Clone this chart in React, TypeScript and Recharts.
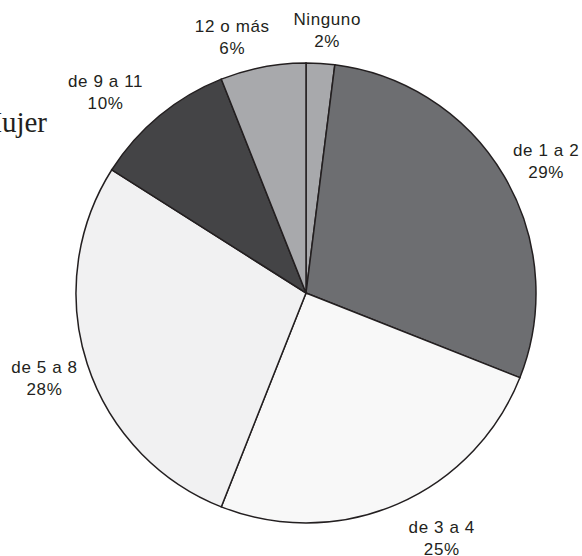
import React from "react";
import { PieChart, Pie, Cell } from "recharts";

// Share of households by number of books (women respondents)
const categories = ["Ninguno", "de 1 a 2", "de 3 a 4", "de 5 a 8", "de 9 a 11", "12 o más"];
const shares = [2, 29, 25, 28, 10, 6];
const sliceColors = ["#a8a9ac", "#6d6e71", "#f8f8f8", "#f1f1f2", "#444446", "#a8a9ac"];

// label placement: [angle nudge in degrees (clockwise), distance from centre]
const labelPlacement: [number, number][] = [
  [1, 264],
  [1.8, 274],
  [-5.6, 280],
  [0, 275],
  [-5.3, 284],
  [-5.3, 266],
];

const data = categories.map((name, i) => ({ name, value: shares[i] }));

const RADIAN = Math.PI / 180;
const INK = "#231f20";

const renderLabel = (props: any) => {
  const { cx, cy, midAngle, name, value, index } = props;
  const [nudge, r] = labelPlacement[index];
  const theta = (90 - midAngle + nudge) * RADIAN; // clockwise from 12 o'clock
  const x = cx + r * Math.sin(theta);
  const y = cy - r * Math.cos(theta);
  return (
    <text
      x={x}
      y={y}
      textAnchor="middle"
      fill={INK}
      fontFamily="'Liberation Sans', Arial, sans-serif"
      fontSize={17}
      letterSpacing={0.6}
    >
      <tspan x={x} y={y - 5}>{name}</tspan>
      <tspan x={x} y={y + 17}>{value}%</tspan>
    </text>
  );
};

const App: React.FC = () => {
  return (
    <div style={{ position: "absolute", left: 0, top: 0, width: 582, height: 556, background: "#fff" }}>
      <svg width={582} height={556} style={{ position: "absolute", left: 0, top: 0 }}>
        <text x={47} y={132} textAnchor="end" fill={INK} fontFamily="'Liberation Serif', 'Times New Roman', serif" fontSize={29}>
          Mujer
        </text>
      </svg>
      <div style={{ position: "absolute", left: 0, top: 0 }}>
        <PieChart width={582} height={556} margin={{ top: 0, right: 0, bottom: 0, left: 0 }}>
          <Pie
            data={data}
            dataKey="value"
            nameKey="name"
            cx={306}
            cy={293}
            outerRadius={230}
            startAngle={90}
            endAngle={-270}
            stroke={INK}
            strokeWidth={1.5}
            label={renderLabel}
            labelLine={false}
            isAnimationActive={false}
          >
            {data.map((d, i) => (
              <Cell key={d.name} fill={sliceColors[i]} />
            ))}
          </Pie>
        </PieChart>
      </div>
    </div>
  );
};

export default App;
